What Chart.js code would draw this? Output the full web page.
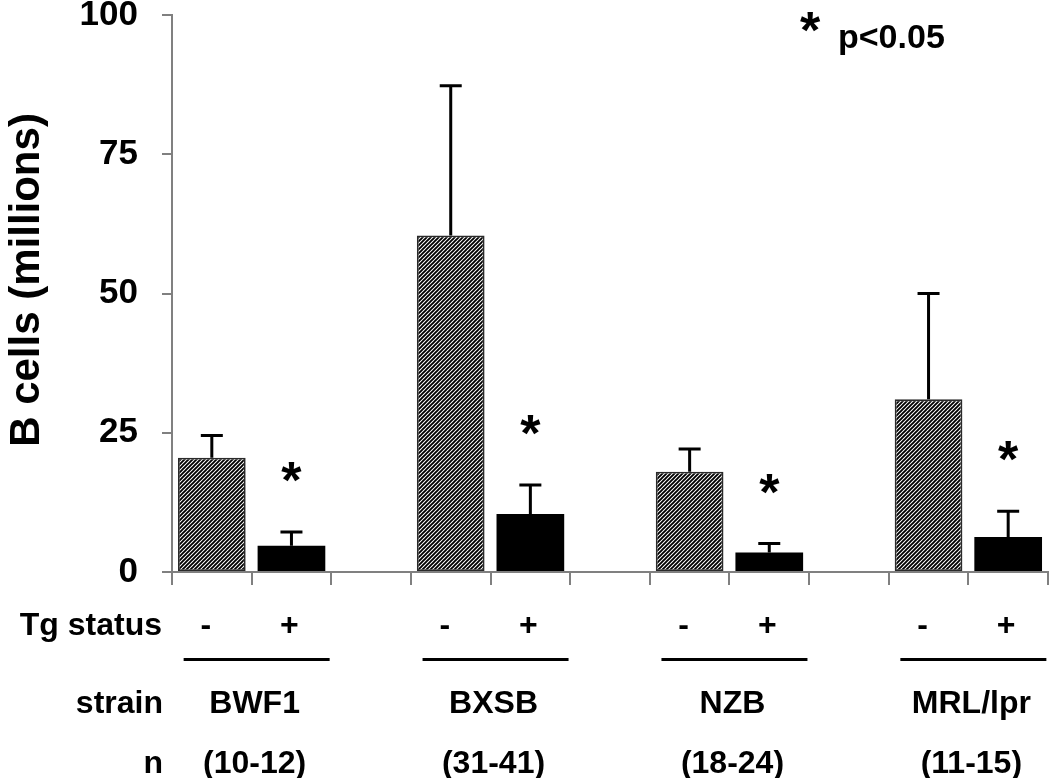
<!DOCTYPE html>
<html>
<head>
<meta charset="utf-8">
<script src="https://cdn.jsdelivr.net/npm/chart.js@4.4.1/dist/chart.umd.min.js"></script>
<style>
  html, body { margin: 0; padding: 0; background: #fff; }
  #c { display: block; }
</style>
</head>
<body>
<canvas id="c" width="1050" height="778"></canvas>
<script>
// ---- data ----
const strains = ['BWF1', 'BXSB', 'NZB', 'MRL/lpr'];
const nRanges = ['(10-12)', '(31-41)', '(18-24)', '(11-15)'];
const tgNegMeans = [20.5, 60.4, 18.0, 31.0];
const tgNegSEM = [4.0, 26.9, 4.1, 19.0];
const tgPosMeans = [4.7, 10.4, 3.5, 6.3];
const tgPosSEM = [2.5, 5.2, 1.6, 4.6];
const significant = [true, true, true, true];
const yTicks = [0, 25, 50, 75, 100];
const yTitle = 'B cells (millions)';
const tgLabel = 'Tg status';
const strainLabel = 'strain';
const nLabel = 'n';
const legendText = 'p<0.05';

// ---- build 11 slots: -, +, gap, -, +, gap ... ----
const labels = [];
const negData = [], posData = [], negErr = [], posErr = [];
strains.forEach((s, i) => {
  labels.push(s + ' -'); negData.push(tgNegMeans[i]); posData.push(null); negErr.push(tgNegSEM[i]); posErr.push(null);
  labels.push(s + ' +'); negData.push(null); posData.push(tgPosMeans[i]); negErr.push(null); posErr.push(tgPosSEM[i]);
  if (i < strains.length - 1) {
    labels.push(' '.repeat(i + 1)); negData.push(null); posData.push(null); negErr.push(null); posErr.push(null);
  }
});

const FONT = "'Liberation Sans', Arial, Helvetica, sans-serif";

// hatch pattern
function makeHatch() {
  const t = document.createElement('canvas');
  t.width = 4; t.height = 4;
  const g = t.getContext('2d');
  g.fillStyle = '#fff';
  g.fillRect(0, 0, 4, 4);
  g.strokeStyle = '#000';
  g.lineWidth = 1.9;
  g.beginPath();
  g.moveTo(-1, 5); g.lineTo(5, -1);
  g.moveTo(-1, 1); g.lineTo(1, -1);
  g.moveTo(3, 5); g.lineTo(5, 3);
  g.stroke();
  return document.getElementById('c').getContext('2d').createPattern(t, 'repeat');
}
const hatch = makeHatch();

const overlay = {
  id: 'overlay',
  afterDatasetsDraw(chart) {
    const ctx = chart.ctx;
    const y = chart.scales.y;
    ctx.save();
    // error bars + asterisks
    [[0, negErr, negData, false], [1, posErr, posData, true]].forEach(([di, errs, vals, star]) => {
      const meta = chart.getDatasetMeta(di);
      meta.data.forEach((el, idx) => {
        if (vals[idx] == null) return;
        const top = y.getPixelForValue(vals[idx] + errs[idx]);
        ctx.strokeStyle = '#000';
        ctx.lineWidth = 3;
        ctx.beginPath();
        ctx.moveTo(el.x, el.y);
        ctx.lineTo(el.x, top);
        ctx.moveTo(el.x - 11, top);
        ctx.lineTo(el.x + 11, top);
        ctx.stroke();
        const gi = Math.floor(idx / 3);
        if (star && significant[gi]) {
          ctx.fillStyle = '#000';
          ctx.font = 'bold 52px ' + FONT;
          ctx.textAlign = 'center';
          ctx.textBaseline = 'alphabetic';
          ctx.fillText('*', el.x, top - 64 + 30);
        }
      });
    });
    ctx.restore();
  },
  afterDraw(chart) {
    const ctx = chart.ctx;
    const x = chart.scales.x;
    ctx.save();
    ctx.fillStyle = '#000';
    // y title
    ctx.save();
    ctx.translate(39, 280);
    ctx.rotate(-Math.PI / 2);
    ctx.font = 'bold 42px ' + FONT;
    ctx.textAlign = 'center';
    ctx.textBaseline = 'alphabetic';
    ctx.fillText(yTitle, 0, 0);
    ctx.restore();

    // row labels
    ctx.font = 'bold 32px ' + FONT;
    ctx.textAlign = 'right';
    ctx.textBaseline = 'alphabetic';
    ctx.fillText(tgLabel, 162, 635);
    ctx.fillText(strainLabel, 163, 713);
    ctx.fillText(nLabel, 163, 773);

    ctx.textAlign = 'center';
    strains.forEach((s, i) => {
      const xm = x.getPixelForValue(i * 3);
      const xp = x.getPixelForValue(i * 3 + 1);
      const mid = (xm + xp) / 2;
      ctx.fillText('-', xm - 6, 635);
      ctx.fillText('+', xp - 2, 635);
      ctx.fillRect(mid + 5 - 73, 658, 146, 3);
      ctx.fillText(s, mid + 3, 713);
      ctx.fillText(nRanges[i], mid + 3, 773);
    });

    // legend
    ctx.font = 'bold 52px ' + FONT;
    ctx.fillText('*', 810, 48);
    ctx.font = 'bold 34px ' + FONT;
    ctx.textAlign = 'left';
    ctx.fillText(legendText, 838, 48);
    ctx.restore();
  }
};

new Chart(document.getElementById('c'), {
  type: 'bar',
  data: {
    labels: labels,
    datasets: [
      {
        label: 'Tg -',
        data: negData,
        backgroundColor: hatch,
        borderColor: '#2a2a2a',
        borderWidth: 1.8,
        borderSkipped: false,
        grouped: false,
        categoryPercentage: 1,
        barPercentage: 0.85
      },
      {
        label: 'Tg +',
        data: posData,
        backgroundColor: '#000',
        borderColor: '#000',
        borderWidth: 0,
        grouped: false,
        categoryPercentage: 1,
        barPercentage: 0.85
      }
    ]
  },
  options: {
    responsive: false,
    animation: false,
    events: [],
    layout: { padding: { top: 15, right: 2, left: 0, bottom: 0 } },
    plugins: { legend: { display: false }, tooltip: { enabled: false }, title: { display: false } },
    scales: {
      x: {
        offset: true,
        grid: { display: true, drawOnChartArea: false, drawTicks: true, tickLength: 13, color: '#808080', lineWidth: 2, offset: true },
        border: { display: true, color: '#808080', width: 2 },
        ticks: { display: false },
        afterFit(scale) { scale.height = 206; scale.paddingLeft = 0; scale.paddingRight = 0; }
      },
      y: {
        min: 0,
        max: 100,
        afterBuildTicks(scale) { scale.ticks = yTicks.map(v => ({ value: v })); },
        grid: { display: true, drawOnChartArea: false, drawTicks: true, tickLength: 10, color: '#808080', lineWidth: 2 },
        border: { display: true, color: '#808080', width: 2 },
        ticks: { color: '#000', padding: 24, font: { family: FONT, size: 35, weight: 'bold' } },
        afterFit(scale) { scale.width = 172; scale.paddingTop = 0; scale.paddingBottom = 0; }
      }
    }
  },
  plugins: [overlay]
});
</script>
</body>
</html>
